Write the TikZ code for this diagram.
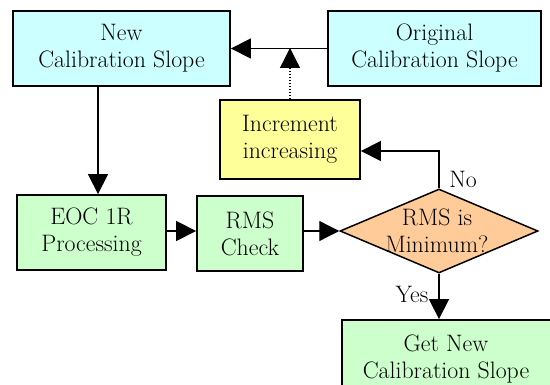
\documentclass[tikz,border=0pt]{standalone}
\usepackage{fontspec}
\usetikzlibrary{shapes.geometric,arrows.meta}
\definecolor{cyanfill}{HTML}{CCFFFF}
\definecolor{yellowfill}{HTML}{FFFF99}
\definecolor{greenfill}{HTML}{CCFFCC}
\definecolor{orangefill}{HTML}{FFCC99}
\begin{document}
\begin{tikzpicture}[x=1pt,y=-1pt,
  every node/.style={font=\rmfamily\fontsize{23.8}{27}\selectfont, align=center, inner sep=0pt},
  box/.style={draw=black, line width=1.8pt, rectangle},
  cyanbox/.style={box, fill=cyanfill},
  yellowbox/.style={box, fill=yellowfill},
  greenbox/.style={box, fill=greenfill},
  decision/.style={draw=black, line width=1.5pt, diamond, fill=orangefill},
  conn/.style={line width=1.3pt, -{Triangle[length=20pt,width=20pt]}},
  dotconn/.style={conn, dash pattern=on 1.3pt off 1.7pt}
]
\useasboundingbox (0,0) rectangle (550,385);
\clip (0,0) rectangle (550,385);
\node[cyanbox, minimum width=217, minimum height=75] (new) at (121.5,48.5) {New\\Calibration Slope};
\node[cyanbox, minimum width=213, minimum height=75] (orig) at (434.5,48.5) {Original\\Calibration Slope};
\node[yellowbox, minimum width=140, minimum height=79] (incr) at (290,139.5) {Increment\\increasing};
\node[greenbox, minimum width=149, minimum height=75] (eoc) at (91.5,232.5) {EOC 1R\\Processing};
\node[greenbox, minimum width=106, minimum height=75] (rms) at (250,233.5) {RMS\\Check};
\node[decision, minimum width=198, minimum height=84] (dia) at (439,231) {};
\node (diatext) at (437,231) {RMS is\\Minimum?};
\node[greenbox, minimum width=210, minimum height=78] (getnew) at (447,359) {};
\node (getnewtext) at (446,359) {Get New\\Calibration Slope};
\node (nolabel) at (463,179) {No};
\node (yeslabel) at (412,294) {Yes};
\coordinate (downx) at (98,0);
\coordinate (nojoin) at (0,151);
\coordinate (joinpt) at (290,48);
\draw[conn] (orig.west) -- (new.east);
\draw[dotconn] (incr.north) -- (joinpt);
\draw[conn] (dia.north) |- (incr.east |- nojoin);
\draw[conn] (new.south -| downx) -- (eoc.north -| downx);
\draw[conn] (eoc.east |- dia) -- (rms.west |- dia);
\draw[conn] (rms.east |- dia) -- (dia.west);
\draw[conn] (dia.south) -- (dia.south |- getnew.north);
\end{tikzpicture}
\end{document}
